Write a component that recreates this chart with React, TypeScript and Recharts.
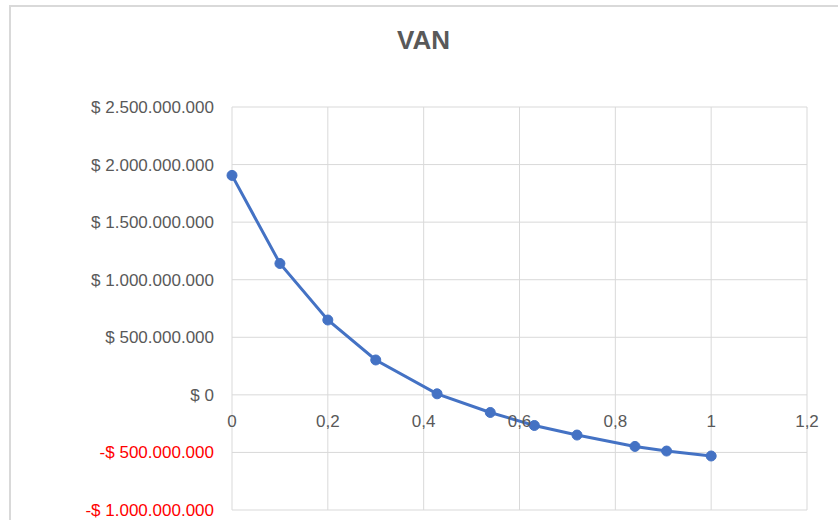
import React from 'react';
import { LineChart, Line, XAxis, YAxis, CartesianGrid } from 'recharts';

const rates = [0, 0.1, 0.2, 0.3, 0.428, 0.539, 0.631, 0.72, 0.841, 0.907, 1];
const van = [1906000000, 1141000000, 650000000, 303000000, 9000000, -153000000, -266000000, -349000000, -448000000, -488000000, -531000000];
const xTicks = [0, 0.2, 0.4, 0.6, 0.8, 1, 1.2];
const yTicks = [-1000000000, -500000000, 0, 500000000, 1000000000, 1500000000, 2000000000, 2500000000];
const title = 'VAN';

const data = rates.map((r, i) => ({ rate: r, van: van[i] }));

const W = 838;
const H = 520;
const X_AXIS_H = 2;
const M = { top: 107, right: 31, bottom: 10 - X_AXIS_H, left: 0 };
const Y_MIN = -1000000000;
const Y_MAX = 2500000000;
const FONT = '"Liberation Sans", Arial, sans-serif';
const GRAY = '#595959';

const fmtMoney = (v: number) => {
  const s = Math.abs(v).toString().replace(/\B(?=(\d{3})+(?!\d))/g, '.');
  return v < 0 ? `-$ ${s}` : `$ ${s}`;
};

const YTick = (props: any) => {
  const { x, y, payload } = props;
  const v = payload.value as number;
  return (
    <text x={x} y={y} dy={6} textAnchor="end" fontSize={17} fontFamily={FONT} fill={v < 0 ? '#FF0000' : GRAY}>
      {fmtMoney(v)}
    </text>
  );
};

const XTick = (props: any) => {
  const { x, payload } = props;
  const plotH = H - M.top - M.bottom - X_AXIS_H;
  const zeroY = M.top + (plotH * (Y_MAX - 0)) / (Y_MAX - Y_MIN);
  return (
    <text x={x} y={zeroY + 26} dy={6} textAnchor="middle" fontSize={17} fontFamily={FONT} fill={GRAY}>
      {String(payload.value).replace('.', ',')}
    </text>
  );
};

export default function App() {
  return (
    <div style={{ position: 'absolute', left: 0, top: 0, width: W, height: H, overflow: 'hidden', background: '#fff' }}>
      <div
        style={{
          position: 'absolute',
          left: 9,
          top: 5,
          width: W + 20,
          height: H + 20,
          border: '2px solid #d9d9d9',
          boxSizing: 'border-box',
        }}
      />
      <div
        style={{
          position: 'absolute',
          left: 9,
          width: W - 9,
          top: 25,
          textAlign: 'center',
          fontFamily: FONT,
          fontWeight: 'bold',
          fontSize: 26,
          color: GRAY,
          lineHeight: '30px',
        }}
      >
        {title}
      </div>
      <div style={{ position: 'absolute', left: 0, top: 0 }}>
        <LineChart width={W} height={H} data={data} margin={M}>
          <CartesianGrid stroke="#d9d9d9" strokeWidth={1} />
          <XAxis
            dataKey="rate"
            type="number"
            domain={[0, 1.2]}
            ticks={xTicks}
            height={X_AXIS_H}
            axisLine={false}
            tickLine={false}
            tick={<XTick />}
            interval={0}
          />
          <YAxis
            type="number"
            domain={[Y_MIN, Y_MAX]}
            ticks={yTicks}
            width={232}
            axisLine={false}
            tickLine={false}
            tickSize={0}
            tickMargin={18}
            tick={<YTick />}
            interval={0}
          />
          <Line
            dataKey="van"
            type="linear"
            stroke="#4472C4"
            strokeWidth={3}
            dot={{ r: 5, fill: '#4472C4', stroke: '#4472C4', strokeWidth: 1 }}
            isAnimationActive={false}
          />
        </LineChart>
      </div>
    </div>
  );
}
